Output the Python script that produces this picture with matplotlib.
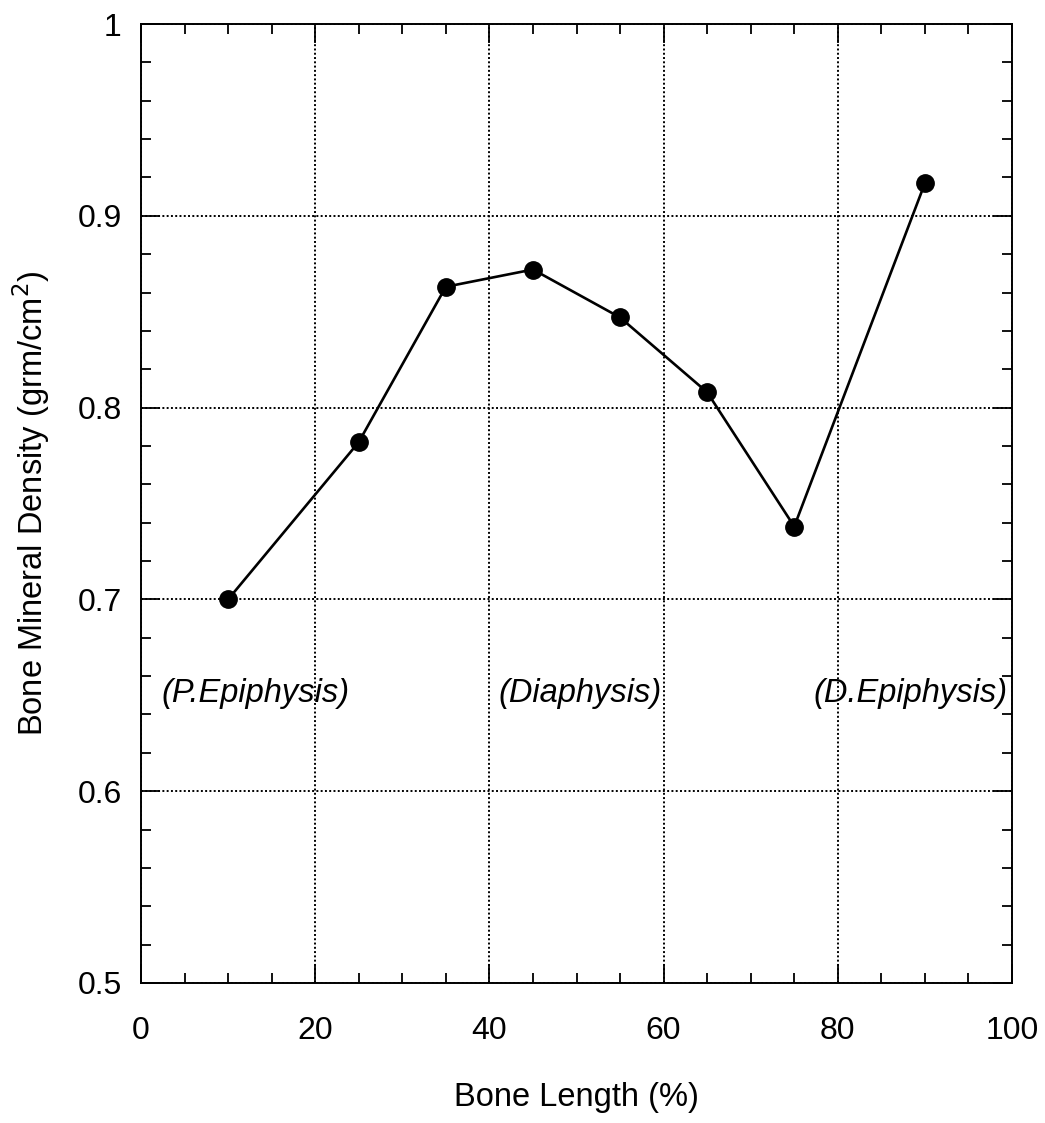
import matplotlib
matplotlib.use('Agg')
import matplotlib.pyplot as plt
from matplotlib.ticker import MultipleLocator

plt.rcParams['font.family'] = ['Liberation Sans', 'DejaVu Sans']

# data
bone_length = [10, 25, 35, 45, 55, 65, 75, 90]
bmd = [0.700, 0.782, 0.863, 0.872, 0.847, 0.808, 0.738, 0.917]

region_labels = ['(P.Epiphysis)', '(Diaphysis)', '(D.Epiphysis)']
region_x = [13.1, 50.4, 88.3]
region_y = 0.651

fig = plt.figure(figsize=(10.45, 11.23), dpi=100)
ax = fig.add_axes([141 / 1045, 1 - 983 / 1123, 871 / 1045, 959 / 1123])

ax.plot(bone_length, bmd, '-o', color='black', linewidth=1.9,
        markersize=12.5, zorder=3)

for lab, x in zip(region_labels, region_x):
    ax.text(x, region_y, lab, ha='center', va='center', fontsize=23.5,
            style='italic')

ax.set_xlim(0, 100)
ax.set_ylim(0.5, 1.0)
ax.xaxis.set_minor_locator(MultipleLocator(5))
ax.yaxis.set_minor_locator(MultipleLocator(0.02))
ax.set_xticks([0, 20, 40, 60, 80, 100])
ax.set_xticklabels(['0', '20', '40', '60', '80', '100'])
ax.set_yticks([0.5, 0.6, 0.7, 0.8, 0.9, 1.0])
ax.set_yticklabels(['0.5', '0.6', '0.7', '0.8', '0.9', '1'])

ax.tick_params(which='both', direction='in', top=True, right=True,
               labelsize=23, width=1.3)
ax.tick_params(which='major', length=14, pad=14)
ax.tick_params(axis='x', which='major', pad=24)
ax.tick_params(which='minor', length=7)
ax.grid(True, which='major', linestyle=(0, (1.0, 1.2)), color='black',
        linewidth=1.4)
for s in ax.spines.values():
    s.set_linewidth(1.4)

ax.set_xlabel('Bone Length (%)', fontsize=23.5, labelpad=26)
ax.set_ylabel('Bone Mineral Density (grm/cm$^{2}$)', fontsize=23.5,
              labelpad=18)

fig.savefig('out.png', dpi=100)
